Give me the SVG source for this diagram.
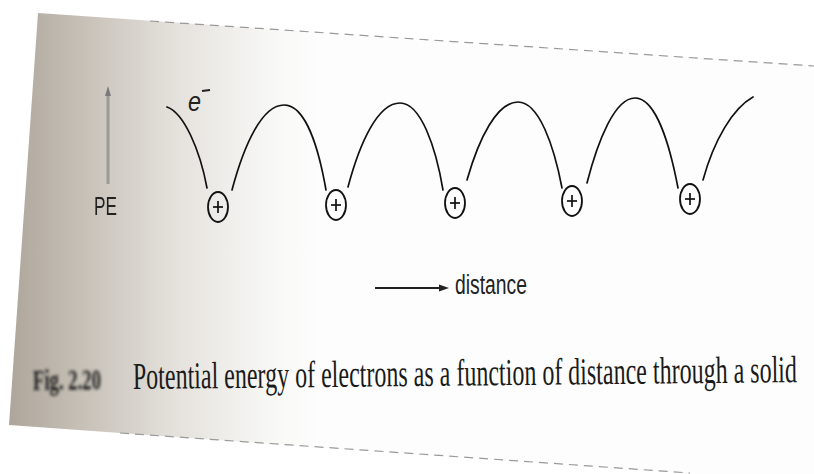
<svg xmlns="http://www.w3.org/2000/svg" width="814" height="474" viewBox="0 0 814 474">
  <defs>
    <linearGradient id="shade" gradientUnits="userSpaceOnUse" x1="10" y1="0" x2="320" y2="0">
      <stop offset="0" stop-color="#aea69b"/>
      <stop offset="0.25" stop-color="#c8c2b9"/>
      <stop offset="0.55" stop-color="#e6e3de"/>
      <stop offset="0.85" stop-color="#f8f8f6"/>
      <stop offset="1" stop-color="#fdfdfd"/>
    </linearGradient>
    <filter id="blurHeavy" x="-8%" y="-20%" width="116%" height="140%">
      <feGaussianBlur stdDeviation="1.6"/>
    </filter>
    <filter id="blurLight" x="-30%" y="-20%" width="160%" height="140%">
      <feGaussianBlur stdDeviation="0.7"/>
    </filter>
  </defs>
  <style>
    .edge { fill: none; stroke: #9a9a9a; stroke-width: 1.2; stroke-dasharray: 9 6; }
    .curve { fill: none; stroke: #111; stroke-width: 1.7; stroke-linecap: round; }
    .ion { fill: none; stroke: #111; stroke-width: 1.8; }
    .plus { stroke: #111; stroke-width: 1.7; }
    .sans { font-family: "Liberation Sans", Arial, sans-serif; fill: #222; }
    .serif { font-family: "Liberation Serif", "Times New Roman", serif; fill: #1a1a1a; }
  </style>

  <!-- background and page -->
  <rect x="0" y="0" width="814" height="474" fill="#ffffff"/>
  <g id="page">
    <polygon points="38,13 814,66 814,474 690,474 9,425" fill="url(#shade)"/>
    <line class="edge" x1="150" y1="21" x2="814" y2="66"/>
    <line class="edge" x1="120" y1="433" x2="690" y2="473"/>
  </g>

  <!-- PE axis -->
  <g id="pe-axis" filter="url(#blurLight)">
    <line x1="108" y1="184" x2="108" y2="92" stroke="#9a9a9a" stroke-width="3"/>
    <polygon points="108,86 105,96 111,96" fill="#7a7a7a"/>
    <text class="sans" x="94" y="215" font-size="26" textLength="23" lengthAdjust="spacingAndGlyphs" fill="#666">PE</text>
  </g>

  <!-- electron label -->
  <g id="electron-label">
    <text class="sans" x="188" y="111" font-size="28" font-style="italic" textLength="13" lengthAdjust="spacingAndGlyphs">e</text>
    <line x1="202" y1="91" x2="210" y2="90" stroke="#222" stroke-width="1.8"/>
  </g>

  <!-- potential curve (connectors) -->
  <g id="potential-curve">
    <path class="curve" d="M167,107 C184,113 200,150 207,188"/>
    <path class="curve" d="M232,190 C244,145 262,105 284,105 C306,105 319,150 326,190"/>
    <path class="curve" d="M348,187 C360,142 378,103 400,103 C421,103 436,148 443,190"/>
    <path class="curve" d="M467,180 C479,138 497,102 518,102 C539,102 554,146 562,188"/>
    <path class="curve" d="M587,183 C598,140 615,98 635,98 C656,98 670,146 678,188"/>
    <path class="curve" d="M703,180 C714,140 733,108 753,97"/>
  </g>

  <!-- positive ions -->
  <g id="ion1">
    <ellipse class="ion" cx="218" cy="207" rx="10" ry="15"/>
    <line class="plus" x1="213" y1="207" x2="223" y2="207"/>
    <line class="plus" x1="218" y1="201" x2="218" y2="213"/>
  </g>
  <g id="ion2">
    <ellipse class="ion" cx="336" cy="205" rx="10" ry="15"/>
    <line class="plus" x1="331" y1="205" x2="341" y2="205"/>
    <line class="plus" x1="336" y1="199" x2="336" y2="211"/>
  </g>
  <g id="ion3">
    <ellipse class="ion" cx="455" cy="203" rx="10" ry="15"/>
    <line class="plus" x1="450" y1="203" x2="460" y2="203"/>
    <line class="plus" x1="455" y1="197" x2="455" y2="209"/>
  </g>
  <g id="ion4">
    <ellipse class="ion" cx="572" cy="201" rx="10" ry="15"/>
    <line class="plus" x1="567" y1="201" x2="577" y2="201"/>
    <line class="plus" x1="572" y1="195" x2="572" y2="207"/>
  </g>
  <g id="ion5">
    <ellipse class="ion" cx="690" cy="199" rx="10" ry="15"/>
    <line class="plus" x1="685" y1="199" x2="695" y2="199"/>
    <line class="plus" x1="690" y1="193" x2="690" y2="205"/>
  </g>

  <!-- distance arrow -->
  <g id="distance-axis">
    <line x1="375" y1="288" x2="442" y2="288" stroke="#222" stroke-width="2"/>
    <polygon points="449,288 439,284.5 439,291.5" fill="#222"/>
    <text class="sans" x="455" y="294" font-size="27" textLength="72" lengthAdjust="spacingAndGlyphs">distance</text>
  </g>

  <!-- caption -->
  <g id="caption" transform="rotate(-0.6 133 389)">
    <text class="serif" x="33" y="389" font-size="30" font-weight="bold" textLength="68" lengthAdjust="spacingAndGlyphs" fill="#555" filter="url(#blurHeavy)">Fig. 2.20</text>
    <text class="serif" transform="translate(133 389) scale(1 1.9)" x="0" y="0" font-size="20" textLength="664" lengthAdjust="spacingAndGlyphs">Potential energy of electrons as a function of distance through a solid</text>
  </g>
</svg>
